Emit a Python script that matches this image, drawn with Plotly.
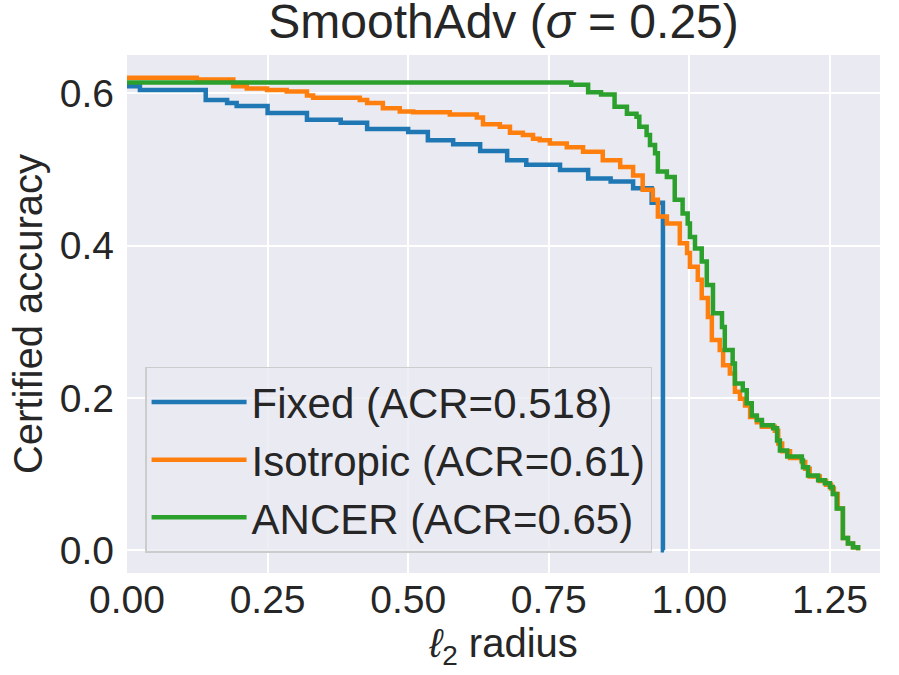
import plotly.graph_objects as go

# certified accuracy vs l2 radius (step curves)
fixed_r   = [0.0, 0.023, 0.14, 0.178, 0.195, 0.25, 0.32, 0.38, 0.427, 0.50, 0.535,
             0.58, 0.628, 0.676, 0.71, 0.77, 0.82, 0.86, 0.90, 0.933, 0.953, 0.955]
fixed_acc = [0.609, 0.604, 0.591, 0.587, 0.583, 0.574, 0.565, 0.561, 0.553, 0.549, 0.538,
             0.533, 0.524, 0.512, 0.506, 0.499, 0.488, 0.484, 0.475, 0.456, 0.0, 0.0]

iso_r   = [0.0, 0.124, 0.189, 0.213, 0.249, 0.284, 0.32, 0.331, 0.414, 0.427, 0.455,
           0.485, 0.509, 0.574, 0.622, 0.633, 0.663, 0.681, 0.704, 0.722, 0.734, 0.752,
           0.782, 0.811, 0.846, 0.877, 0.900, 0.917, 0.935, 0.944, 0.960, 0.983, 0.996,
           1.001, 1.015, 1.022, 1.033, 1.040, 1.054, 1.060, 1.072, 1.081, 1.090, 1.099,
           1.108, 1.120, 1.129, 1.152, 1.158, 1.165, 1.179, 1.200, 1.206, 1.214, 1.232,
           1.243, 1.252, 1.257, 1.264, 1.273, 1.282, 1.291, 1.300]
iso_acc = [0.620, 0.618, 0.609, 0.606, 0.604, 0.602, 0.597, 0.594, 0.591, 0.587, 0.580,
           0.576, 0.575, 0.572, 0.568, 0.559, 0.556, 0.548, 0.545, 0.540, 0.538, 0.534,
           0.529, 0.523, 0.512, 0.503, 0.492, 0.473, 0.460, 0.438, 0.429, 0.403, 0.390,
           0.372, 0.355, 0.331, 0.306, 0.276, 0.263, 0.243, 0.232, 0.208, 0.199, 0.190,
           0.175, 0.168, 0.162, 0.157, 0.140, 0.130, 0.121, 0.116, 0.107, 0.097, 0.091,
           0.086, 0.081, 0.074, 0.055, 0.016, 0.009, 0.004, 0.0]

ancer_r   = [0.0, 0.79, 0.82, 0.843, 0.867, 0.889, 0.906, 0.911, 0.924, 0.930, 0.939,
             0.944, 0.960, 0.974, 0.988, 0.997, 1.001, 1.010, 1.022, 1.031, 1.042, 1.058,
             1.063, 1.077, 1.081, 1.095, 1.102, 1.111, 1.120, 1.129, 1.149, 1.156, 1.161,
             1.174, 1.200, 1.202, 1.211, 1.229, 1.241, 1.250, 1.255, 1.262, 1.273, 1.282,
             1.291, 1.300]
ancer_acc = [0.614, 0.611, 0.601, 0.598, 0.582, 0.573, 0.569, 0.556, 0.545, 0.532, 0.521,
             0.497, 0.490, 0.460, 0.442, 0.429, 0.411, 0.396, 0.379, 0.348, 0.311, 0.293,
             0.263, 0.245, 0.219, 0.210, 0.193, 0.177, 0.171, 0.164, 0.160, 0.144, 0.131,
             0.123, 0.118, 0.109, 0.098, 0.092, 0.088, 0.083, 0.074, 0.055, 0.016, 0.009,
             0.004, 0.0]

x_ticks = [0.0, 0.25, 0.5, 0.75, 1.0, 1.25]
y_ticks = [0.0, 0.2, 0.4, 0.6]

FONT = "Liberation Sans, Arial, sans-serif"
BG = "#eaeaf2"
INK = "#262626"

series = [
    ("Fixed (ACR=0.518)",    fixed_r, fixed_acc, "#1f77b4"),
    ("Isotropic (ACR=0.61)", iso_r,   iso_acc,   "#ff7f0e"),
    ("ANCER (ACR=0.65)",     ancer_r, ancer_acc, "#2ca02c"),
]

fig = go.Figure()
for name, r, acc, col in series:
    fig.add_trace(go.Scatter(x=r, y=acc, mode="lines", name=name,
                             line=dict(color=col, width=4.5, shape="hv")))

fig.update_layout(
    width=899, height=675,
    paper_bgcolor="white", plot_bgcolor=BG,
    margin=dict(l=127, r=19, t=55, b=102, autoexpand=False),
    font=dict(family=FONT, size=38, color=INK),
    title=dict(text="SmoothAdv (<i>σ</i> = 0.25)", x=0.5, xref="paper",
               xanchor="center", y=1 - 21 / 675, yref="container", yanchor="middle",
               font=dict(size=48, color=INK)),
    xaxis=dict(range=[0, 1.339], tickvals=x_ticks, tickformat=".2f",
               showgrid=True, gridcolor="white", gridwidth=1.5, zeroline=False,
               showline=False, ticks="", tickfont=dict(size=39), automargin=False,
               title=dict(text="<i>ℓ</i><sub>2</sub> radius", font=dict(size=40),
                          standoff=4)),
    yaxis=dict(range=[-0.0298, 0.650], tickvals=y_ticks, tickformat=".1f",
               showgrid=True, gridcolor="white", gridwidth=1.5, zeroline=False,
               showline=False, ticks="", tickfont=dict(size=39), automargin=False,
               ticklabelstandoff=12,
               title=dict(text="Certified accuracy", font=dict(size=40),
                          standoff=4)),
    legend=dict(x=0.024, y=0.039, xanchor="left", yanchor="bottom",
                bgcolor="rgba(234,234,242,0.8)", bordercolor="#cccccc",
                borderwidth=1.5, font=dict(size=42, color=INK),
                itemwidth=95),
)

fig.write_html("out.html", config={"displayModeBar": False},
               post_script="document.body.style.margin='0';")
